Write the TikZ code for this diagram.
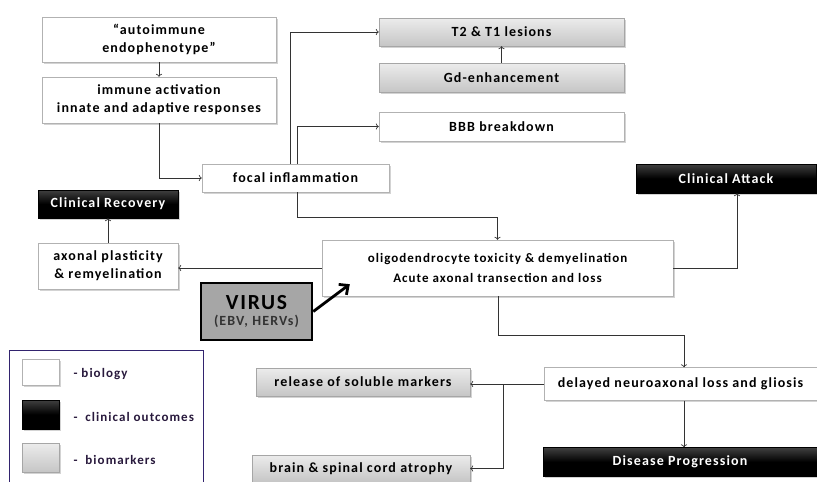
\documentclass[tikz,border=0pt]{standalone}
\usepackage{fontspec}
\setmainfont{Carlito}[LetterSpace=8.0]
\usepackage{tikz}
\usetikzlibrary{shadows,arrows.meta}

\definecolor{legtext}{RGB}{40,25,60}
\definecolor{legline}{RGB}{50,35,110}

\tikzset{
  box/.style = {draw=gray!60, line width=0.4pt, align=center, inner sep=1pt,
                font=\bfseries\fontsize{14}{18}\selectfont,
                drop shadow={shadow xshift=1.5pt, shadow yshift=-1.5pt, opacity=0.35}},
  biobox/.style = {box, fill=white},
  clinbox/.style = {box, top color=black!75, bottom color=black, middle color=black,
                    text=white, draw=black},
  markbox/.style = {box, top color=gray!15, bottom color=gray!45, draw=gray!70},
  link/.style = {->, draw=black!80, line width=0.6pt}
}

\begin{document}
\begin{tikzpicture}[x=1pt, y=-1pt]
  \useasboundingbox (0,0) rectangle (817,482);

  % biology boxes
  \node [biobox, minimum width=234pt, minimum height=45pt] (auto) at (159,39.5)
        {``autoimmune\\endophenotype''};
  \node [biobox, minimum width=234pt, minimum height=46pt] (immune) at (159,100)
        {immune activation\\innate and adaptive responses};
  \node [biobox, minimum width=187pt, minimum height=28pt] (focal) at (295.5,178)
        {focal inflammation};
  \node [biobox, minimum width=245pt, minimum height=29pt] (bbb) at (501.5,126.5)
        {BBB breakdown};
  \node [biobox, minimum width=140pt, minimum height=46pt] (plast) at (108,266)
        {axonal plasticity\\\& remyelination};
  \node [biobox, minimum width=351pt, minimum height=56pt,
         font=\bfseries\fontsize{13}{17}\selectfont] (oligo) at (497.5,268)
        {oligodendrocyte toxicity \& demyelination\\[3pt]Acute axonal transection and loss};
  \node [biobox, minimum width=273pt, minimum height=33pt] (delayed) at (680.5,384)
        {delayed neuroaxonal loss and gliosis};

  % biomarkers
  \node [markbox, minimum width=245pt, minimum height=28pt] (lesions) at (501.5,32)
        {T2 \& T1 lesions};
  \node [markbox, minimum width=245pt, minimum height=29pt] (gd) at (501.5,77.5)
        {Gd-enhancement};
  \node [markbox, minimum width=214pt, minimum height=28pt] (release) at (363,382)
        {release of soluble markers};
  \node [markbox, minimum width=218pt, minimum height=27pt] (atrophy) at (361,468.5)
        {brain \& spinal cord atrophy};

  % clinical outcomes
  \node [clinbox, minimum width=180pt, minimum height=29pt] (attack) at (726,178.5)
        {Clinical Attack};
  \node [clinbox, minimum width=140pt, minimum height=28pt] (recovery) at (108,204)
        {Clinical Recovery};
  \node [clinbox, minimum width=274pt, minimum height=29pt] (progress) at (680,462)
        {Disease Progression};

  % virus
  \node [draw=black, line width=2.5pt, fill=gray!70, align=center, inner sep=1pt,
         font=\bfseries\fontsize{14}{16}\selectfont,
         minimum width=111pt, minimum height=57pt] (virus) at (256.5,311.5)
        {{\fontsize{21.5}{23}\selectfont VIRUS}\\
         \textcolor{black!80}{(EBV, HERVs)}};

  % connectors
  \draw [link] (auto) -- (immune);
  \draw [link] (immune.south) |- (focal.west);
  \draw [link] ([xshift=-5.5pt]focal.north) |- (lesions.west);
  \draw [link] ([xshift=1.5pt]focal.north) |- (bbb.west);
  \draw [link] (gd) -- (lesions);
  \draw [link] ([xshift=1.5pt]focal.south) -- ++(0,25) -| (oligo.north);
  \draw [link] (oligo.east) -| ([xshift=11pt]attack.south);
  \draw [link] (oligo.west) -- (oligo.west -| plast.east);
  \draw [link] (plast) -- (recovery);
  \draw [-{Straight Barb[length=7pt,width=13pt]}, line width=2.8pt]
        (virus.east) -- ([xshift=28pt,yshift=12pt]oligo.south west);
  \draw [link] ([xshift=0.5pt]oligo.south) -- ++(0,39) -| ([xshift=3.5pt]delayed.north);
  \draw [link] (delayed.west) -- (delayed.west -| release.east);
  \coordinate (split) at (503,384);
  \draw [link] (split) |- (atrophy.east);
  \draw [link] ([xshift=3.5pt]delayed.south) -- ([xshift=3.5pt]delayed.south |- progress.north);

  % legend
  \draw [legline, line width=0.8pt] (9,495) |- (203,350) -- (203,495);
  \node [biobox, minimum width=37pt, minimum height=26pt] (legbio) at (40.5,372) {};
  \node [clinbox, minimum width=37pt, minimum height=29pt] (legclin) at (40.5,414.5) {};
  \node [markbox, minimum width=37pt, minimum height=29pt] (legmark) at (40.5,457.5) {};
  \node [anchor=west, text=legtext, font=\bfseries\fontsize{13}{14}\selectfont] (tbio)
        at (70,374) {- biology};
  \node [anchor=west, text=legtext, font=\bfseries\fontsize{13}{14}\selectfont] (tclin)
        at (70,417) {-\ \ clinical outcomes};
  \node [anchor=west, text=legtext, font=\bfseries\fontsize{13}{14}\selectfont] (tmark)
        at (70,460) {-\ \ biomarkers};
\end{tikzpicture}
\end{document}
